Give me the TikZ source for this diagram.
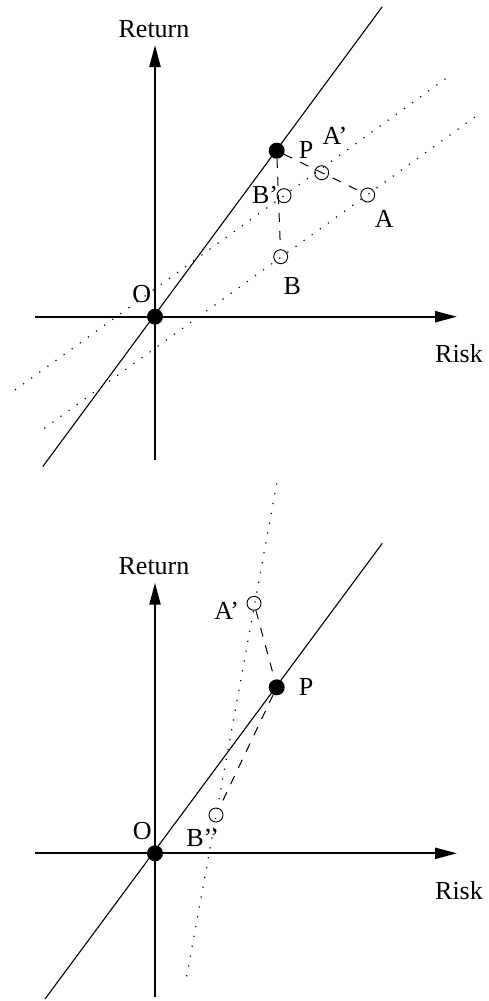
\documentclass[tikz,border=0pt]{standalone}
\usepackage{fontspec}
\setmainfont{Liberation Serif}
\usetikzlibrary{arrows.meta}
\begin{document}
\begin{tikzpicture}[x=1pt,y=-1pt,
  axis/.style={line width=2.2pt,-{Triangle[length=22pt,width=11pt]}},
  solidline/.style={line width=1.1pt},
  dotline/.style={line width=1.2pt,dash pattern=on 1.2pt off 8.8pt},
  dashline/.style={line width=1pt,dash pattern=on 9pt off 9pt},
  bigdot/.style={circle,fill=black,inner sep=0pt,minimum size=16pt},
  smallc/.style={circle,draw=black,line width=0.9pt,inner sep=0pt,minimum size=14pt},
  lbl/.style={inner sep=0pt,font=\fontsize{26}{30}\selectfont}]
\useasboundingbox (0,0) rectangle (488,1001);
% ---------- top panel ----------
\coordinate (xs1) at (35,316.7);
\coordinate (xe1) at (457,316.7);
\coordinate (ys1) at (155,460);
\coordinate (ye1) at (155,45);
\coordinate (ls1) at (42.7,466.7);
\coordinate (le1) at (382.3,6.7);
\coordinate (d1s) at (15,390);
\coordinate (d1e) at (449.3,76);
\coordinate (d2s) at (44.3,428.3);
\coordinate (d2e) at (480,113.3);
\draw[dotline] (d1s) -- (d1e);
\draw[dotline] (d2s) -- (d2e);
\draw[solidline] (ls1) -- (le1);
\draw[axis] (xs1) -- (xe1);
\draw[axis] (ys1) -- (ye1);
\node[bigdot] (O1) at (155,316.7) {};
\node[bigdot] (P1) at (276.7,150.7) {};
\node[smallc] (Ap1) at (321.7,172.7) {};
\node[smallc] (A1) at (367.7,195) {};
\node[smallc] (Bp1) at (284,195.7) {};
\node[smallc] (B1) at (280.7,256.7) {};
\draw[dashline] (P1) -- (A1);
\draw[dashline] (P1) -- (B1);
\node[lbl] (ret1) at (154,29) {Return};
\node[lbl] (risk1) at (459,354) {Risk};
\node[lbl] (Pl1) at (306,150) {P};
\node[lbl] (Apl1) at (335,136) {A’};
\node[lbl] (Al1) at (384.3,219) {A};
\node[lbl] (Bpl1) at (265,195) {B’};
\node[lbl] (Bl1) at (292.3,285.7) {B};
\node[lbl] (Ol1) at (141.7,294.3) {O};
% ---------- bottom panel ----------
\coordinate (xs2) at (35,853.3);
\coordinate (xe2) at (457,853.3);
\coordinate (ys2) at (155,996.7);
\coordinate (ye2) at (155,582.7);
\coordinate (ls2) at (45,999);
\coordinate (le2) at (382.3,543.3);
\coordinate (d3s) at (276.7,483.3);
\coordinate (d3e) at (186,980);
\draw[dotline] (d3s) -- (d3e);
\draw[solidline] (ls2) -- (le2);
\draw[axis] (xs2) -- (xe2);
\draw[axis] (ys2) -- (ye2);
\node[bigdot] (O2) at (155,853.3) {};
\node[bigdot] (P2) at (276.7,687.3) {};
\node[smallc] (Ap2) at (254,603.3) {};
\node[smallc] (Bpp2) at (216,815) {};
\draw[dashline] (Ap2) -- (P2);
\draw[dashline] (P2) -- (Bpp2);
\node[lbl] (ret2) at (154,566) {Return};
\node[lbl] (risk2) at (459,890.7) {Risk};
\node[lbl] (Pl2) at (306,687.3) {P};
\node[lbl] (Apl2) at (226.7,611) {A’};
\node[lbl] (Bppl2) at (202.7,838.3) {B’’};
\node[lbl] (Ol2) at (142.3,830.7) {O};
\end{tikzpicture}
\end{document}
